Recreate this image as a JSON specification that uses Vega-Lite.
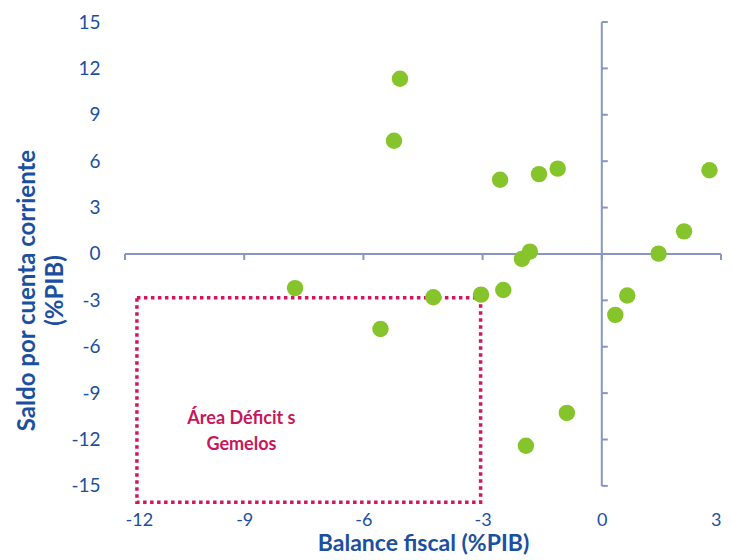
{
  "$schema": "https://vega.github.io/schema/vega-lite/v6.json",
  "width": 596,
  "height": 484,
  "autosize": {"type": "none"},
  "padding": {"left": 125, "top": 22, "right": 11, "bottom": 54},
  "background": "white",
  "config": {"view": {"stroke": null}, "font": "Lato"},
  "datasets": {
    "points": [
      {"x": -5.08, "y": 11.33},
      {"x": -5.23, "y": 7.32},
      {"x": -2.56, "y": 4.80},
      {"x": -1.58, "y": 5.16},
      {"x": -1.11, "y": 5.52},
      {"x": 2.71, "y": 5.41},
      {"x": 2.07, "y": 1.46},
      {"x": 1.43, "y": 0.02},
      {"x": -1.81, "y": 0.15},
      {"x": -2.01, "y": -0.32},
      {"x": -7.72, "y": -2.21},
      {"x": -4.24, "y": -2.80},
      {"x": -3.04, "y": -2.63},
      {"x": -2.48, "y": -2.33},
      {"x": -5.57, "y": -4.85},
      {"x": 0.64, "y": -2.69},
      {"x": 0.34, "y": -3.94},
      {"x": -0.88, "y": -10.28},
      {"x": -1.91, "y": -12.40}
    ],
    "box": [{"x": -11.7, "x2": -3.05, "y": -2.84, "y2": -16.05}],
    "label": [
      {"x": -9.07, "y": -10.65, "t": "Área Déficit s"},
      {"x": -9.07, "y": -12.33, "t": "Gemelos"}
    ],
    "yticks": [{"y": -15}, {"y": -12}, {"y": -9}, {"y": -6}, {"y": -3}, {"y": 0}, {"y": 3}, {"y": 6}, {"y": 9}, {"y": 12}, {"y": 15}],
    "xticks": [{"x": -12}, {"x": -9}, {"x": -6}, {"x": -3}, {"x": 0}, {"x": 3}],
    "vline": [{"x": 0, "y": -15, "y2": 15}],
    "hline": [{"y": 0, "x": -12, "x2": 3}]
  },
  "layer": [
    {
      "data": {"name": "vline"},
      "mark": {"type": "rule", "color": "#8a96c2", "strokeWidth": 2},
      "encoding": {
        "x": {
          "field": "x", "type": "quantitative",
          "scale": {"domain": [-12, 3], "nice": false, "zero": false},
          "axis": {
            "title": "Balance fiscal (%PIB)",
            "values": [-12, -9, -6, -3, 0, 3],
            "labelExpr": "replace(datum.label, '\u2212', '-')",
            "domain": false, "ticks": false, "grid": false,
            "labelFontSize": 18, "labelColor": "#1b4f9f", "labelPadding": 5,
            "titleFontSize": 23, "titleFontWeight": "bold", "titleColor": "#1b4f9f", "titlePadding": 3
          }
        },
        "y": {
          "field": "y", "type": "quantitative",
          "scale": {"domain": [-16.3, 15], "nice": false, "zero": false},
          "axis": {
            "title": ["Saldo por cuenta corriente", "(%PIB)"],
            "values": [-15, -12, -9, -6, -3, 0, 3, 6, 9, 12, 15],
            "labelExpr": "replace(datum.label, '\u2212', '-')",
            "domain": false, "ticks": false, "grid": false,
            "labelFontSize": 19, "labelColor": "#1b4f9f", "labelPadding": 25,
            "titleFontSize": 24, "titleFontWeight": "bold", "titleColor": "#1b4f9f", "titlePadding": 3,
            "titleLineHeight": 28, "titleY": 268
          }
        },
        "y2": {"field": "y2"}
      }
    },
    {
      "data": {"name": "hline"},
      "mark": {"type": "rule", "color": "#8a96c2", "strokeWidth": 2},
      "encoding": {
        "x": {"field": "x", "type": "quantitative"},
        "x2": {"field": "x2"},
        "y": {"field": "y", "type": "quantitative"}
      }
    },
    {
      "data": {"name": "yticks"},
      "mark": {"type": "tick", "orient": "horizontal", "color": "#8a96c2", "size": 6, "thickness": 2, "xOffset": 3, "opacity": 1},
      "encoding": {
        "x": {"datum": 0, "type": "quantitative"},
        "y": {"field": "y", "type": "quantitative"}
      }
    },
    {
      "data": {"name": "xticks"},
      "mark": {"type": "tick", "orient": "vertical", "color": "#8a96c2", "size": 6, "thickness": 2, "yOffset": 3, "opacity": 1},
      "encoding": {
        "x": {"field": "x", "type": "quantitative"},
        "y": {"datum": 0, "type": "quantitative"}
      }
    },
    {
      "data": {"name": "box"},
      "mark": {"type": "rect", "fill": null, "fillOpacity": 0, "stroke": "#d3145f", "strokeWidth": 3.5, "strokeDash": [3.5, 3.5]},
      "encoding": {
        "x": {"field": "x", "type": "quantitative"},
        "x2": {"field": "x2"},
        "y": {"field": "y", "type": "quantitative"},
        "y2": {"field": "y2"}
      }
    },
    {
      "data": {"name": "points"},
      "mark": {"type": "circle", "size": 270, "color": "#86c42c", "opacity": 1},
      "encoding": {
        "x": {"field": "x", "type": "quantitative"},
        "y": {"field": "y", "type": "quantitative"}
      }
    },
    {
      "data": {"name": "label"},
      "mark": {"type": "text", "color": "#c8185a", "fontSize": 18, "fontWeight": "bold", "align": "center", "baseline": "middle"},
      "encoding": {
        "x": {"field": "x", "type": "quantitative"},
        "y": {"field": "y", "type": "quantitative"},
        "text": {"field": "t"}
      }
    }
  ]
}
